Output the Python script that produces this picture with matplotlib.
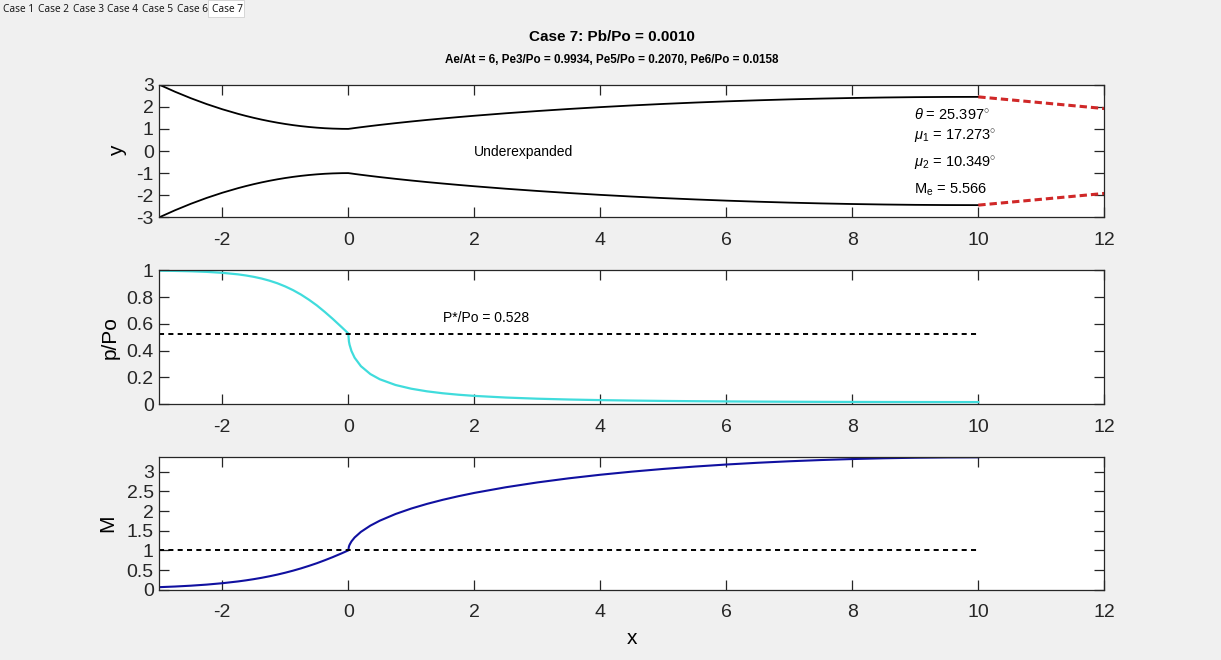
import matplotlib
matplotlib.use('Agg')
import matplotlib.pyplot as plt
from matplotlib.patches import Rectangle

# ---------------- data ----------------
x_pos = [-3, -2.75, -2.5, -2.25, -2, -1.75, -1.625, -1.5, -1.375, -1.25, -1.125, -1, -0.875,
         -0.75, -0.625, -0.5, -0.375, -0.25, -0.1, 0,
         0.01, 0.02, 0.05, 0.1, 0.2, 0.35, 0.5, 0.75, 1, 1.25, 1.5, 1.75, 2,
         2.5, 3, 3.5, 4, 4.5, 5, 5.5, 6, 6.5, 7, 7.5, 8, 8.5, 9, 9.5, 10]

wall_y = [3.000, 2.681, 2.389, 2.125, 1.889, 1.681, 1.587, 1.500, 1.420, 1.347, 1.281, 1.222, 1.170,
          1.125, 1.087, 1.056, 1.031, 1.014, 1.002, 1.000,
          1.004, 1.008, 1.019, 1.039, 1.076, 1.129, 1.180, 1.260, 1.335, 1.406, 1.472, 1.535, 1.595,
          1.707, 1.808, 1.901, 1.985, 2.061, 2.130, 2.191, 2.246, 2.294, 2.336, 2.371, 2.399, 2.421,
          2.437, 2.446, 2.449]

p_ratio = [0.9971, 0.9954, 0.9928, 0.9884, 0.9812, 0.9697, 0.9614, 0.9511, 0.9383, 0.9223, 0.9030,
           0.8793, 0.8513, 0.8184, 0.7803, 0.7380, 0.6898, 0.6385, 0.5731, 0.5283,
           0.4686, 0.4443, 0.3974, 0.3475, 0.2841, 0.2251, 0.1862, 0.1434, 0.1156, 0.0960, 0.0816,
           0.0707, 0.0621,
           0.0497, 0.0411, 0.0350, 0.0305, 0.0271, 0.0244, 0.0224, 0.0207, 0.0194, 0.0183, 0.0175,
           0.0169, 0.0164, 0.0161, 0.0159, 0.0158]

mach = [0.0645, 0.0808, 0.1020, 0.1294, 0.1649, 0.2103, 0.2377, 0.2685, 0.3030, 0.3419, 0.3846,
        0.4326, 0.4852, 0.5428, 0.6061, 0.6734, 0.7481, 0.8270, 0.9285, 1.0000,
        1.0995, 1.1421, 1.2283, 1.3278, 1.4709, 1.6297, 1.7557, 1.9257, 2.0647, 2.1832, 2.2869,
        2.3789, 2.4620,
        2.6058, 2.7284, 2.8332, 2.9240, 3.0030, 3.0721, 3.1322, 3.1842, 3.2290, 3.2668, 3.2980,
        3.3236, 3.3433, 3.3569, 3.3651, 3.3679]

plume_x = [10, 12]
plume_y = [2.449, 1.92]

p_star = 0.528
m_sonic = 1.0
ref_x = [-3, 10]

tab_names = ['Case 1', 'Case 2', 'Case 3', 'Case 4', 'Case 5', 'Case 6', 'Case 7']
title_main = 'Case 7: Pb/Po = 0.0010'
title_sub = 'Ae/At = 6, Pe3/Po = 0.9934, Pe5/Po = 0.2070, Pe6/Po = 0.0158'
notes = [r'$\theta$ = 25.397$^{\circ}$', r'$\mu_1$ = 17.273$^{\circ}$',
         r'$\mu_2$ = 10.349$^{\circ}$', r'M$_{\mathrm{e}}$ = 5.566']
notes_y = [1.65, 0.66, -0.57, -1.74]

x_ticks = [-2, 0, 2, 4, 6, 8, 10, 12]

# ---------------- style ----------------
plt.rcParams['font.family'] = ['Liberation Sans', 'DejaVu Sans']
plt.rcParams['mathtext.fontset'] = 'custom'
plt.rcParams['mathtext.rm'] = 'Liberation Sans'
plt.rcParams['mathtext.it'] = 'Liberation Sans:italic'
plt.rcParams['mathtext.bf'] = 'Liberation Sans:bold'
plt.rcParams['axes.unicode_minus'] = False

W, H = 1221, 660
fig = plt.figure(figsize=(W / 100, H / 100), dpi=100, facecolor='#f0f0f0')

def frac_rect(left, top, right, bottom):
    return [left / W, 1 - bottom / H, (right - left) / W, (bottom - top) / H]

ax1 = fig.add_axes(frac_rect(159.3, 84.7, 1104.3, 217.3))
ax2 = fig.add_axes(frac_rect(159.3, 270.3, 1104.3, 404.2))
ax3 = fig.add_axes(frac_rect(159.3, 457.3, 1104.3, 589.7))

axc = '#262626'
for ax in (ax1, ax2, ax3):
    ax.set_facecolor('white')
    for s in ax.spines.values():
        s.set_color(axc)
        s.set_linewidth(0.9)
    ax.tick_params(direction='in', length=7, width=0.9, color=axc, top=True, right=True,
                   labelsize=14, labelcolor=axc)
    ax.tick_params(axis='x', pad=10.5)
    ax.tick_params(axis='y', pad=4)
    ax.set_xlim(-3, 12)
    ax.set_xticks(x_ticks)

dash_k = dict(color='black', lw=1.4, linestyle=(0, (2.6, 2.2)))

# top: nozzle
neg_wall = [-v for v in wall_y]
ax1.plot(x_pos, wall_y, color='black', lw=1.3)
ax1.plot(x_pos, neg_wall, color='black', lw=1.3)
ax1.plot(plume_x, plume_y, color='#d02828', lw=2.2, linestyle=(0, (2.4, 1.3)))
ax1.plot(plume_x, [-v for v in plume_y], color='#d02828', lw=2.2, linestyle=(0, (2.4, 1.3)))
ax1.set_ylim(-3, 3)
ax1.set_yticks([-3, -2, -1, 0, 1, 2, 3])
ax1.text(2.0, -0.05, 'Underexpanded', fontsize=10, ha='left', va='center')
for t, yy in zip(notes, notes_y):
    ax1.text(8.98, yy, t, fontsize=10.5, ha='left', va='center')
ax1.set_ylabel('y', fontsize=15)
ax1.yaxis.set_label_coords((126.7 - 159.3) / 945, 0.5)

# middle: pressure
ax2.plot(x_pos, p_ratio, color='#40dcdc', lw=1.6)
ax2.plot(ref_x, [p_star, p_star], **dash_k)
ax2.set_ylim(0, 1)
ax2.set_yticks([0, 0.2, 0.4, 0.6, 0.8, 1])
ax2.set_yticklabels(['0', '0.2', '0.4', '0.6', '0.8', '1'])
ax2.text(1.5, 0.645, 'P*/Po = 0.528', fontsize=10, ha='left', va='center')
ax2.set_ylabel('p/Po', fontsize=15)
ax2.yaxis.set_label_coords((120 - 159.3) / 945, 0.5)

# bottom: Mach
ax3.plot(x_pos, mach, color='#1010a0', lw=1.5)
ax3.plot(ref_x, [m_sonic, m_sonic], **dash_k)
ax3.set_ylim(0, max(mach))
ax3.set_yticks([0, 0.5, 1, 1.5, 2, 2.5, 3])
ax3.set_yticklabels(['0', '0.5', '1', '1.5', '2', '2.5', '3'])
ax3.set_ylabel('M', fontsize=15)
ax3.yaxis.set_label_coords((117 - 159.3) / 945, 0.5)
ax3.set_xlabel('x', fontsize=15)
ax3.xaxis.label.set_va('center')
ax3.xaxis.set_label_coords(0.5, -(638 - 589.7) / 132.4)

# titles
fig.text(612 / W, 1 - 36.7 / H, title_main, fontsize=11, fontweight='bold', ha='center', va='center')
fig.text(612 / W, 1 - 60 / H, title_sub, fontsize=8.4, fontweight='bold', ha='center', va='center')

# tab strip
fig.patches.append(Rectangle((208 / W, 1 - 17 / H), 36 / W, 17 / H, transform=fig.transFigure,
                             facecolor='white', edgecolor='#d0d0d0', lw=0.6))
for i, name in enumerate(tab_names):
    fig.text((3 + 34.8 * i) / W, 1 - 9 / H, name, fontsize=7.3, ha='left', va='center',
             family=['Noto Sans', 'DejaVu Sans'], color='#1a1a1a')

fig.savefig('out.png', dpi=100, facecolor=fig.get_facecolor())
